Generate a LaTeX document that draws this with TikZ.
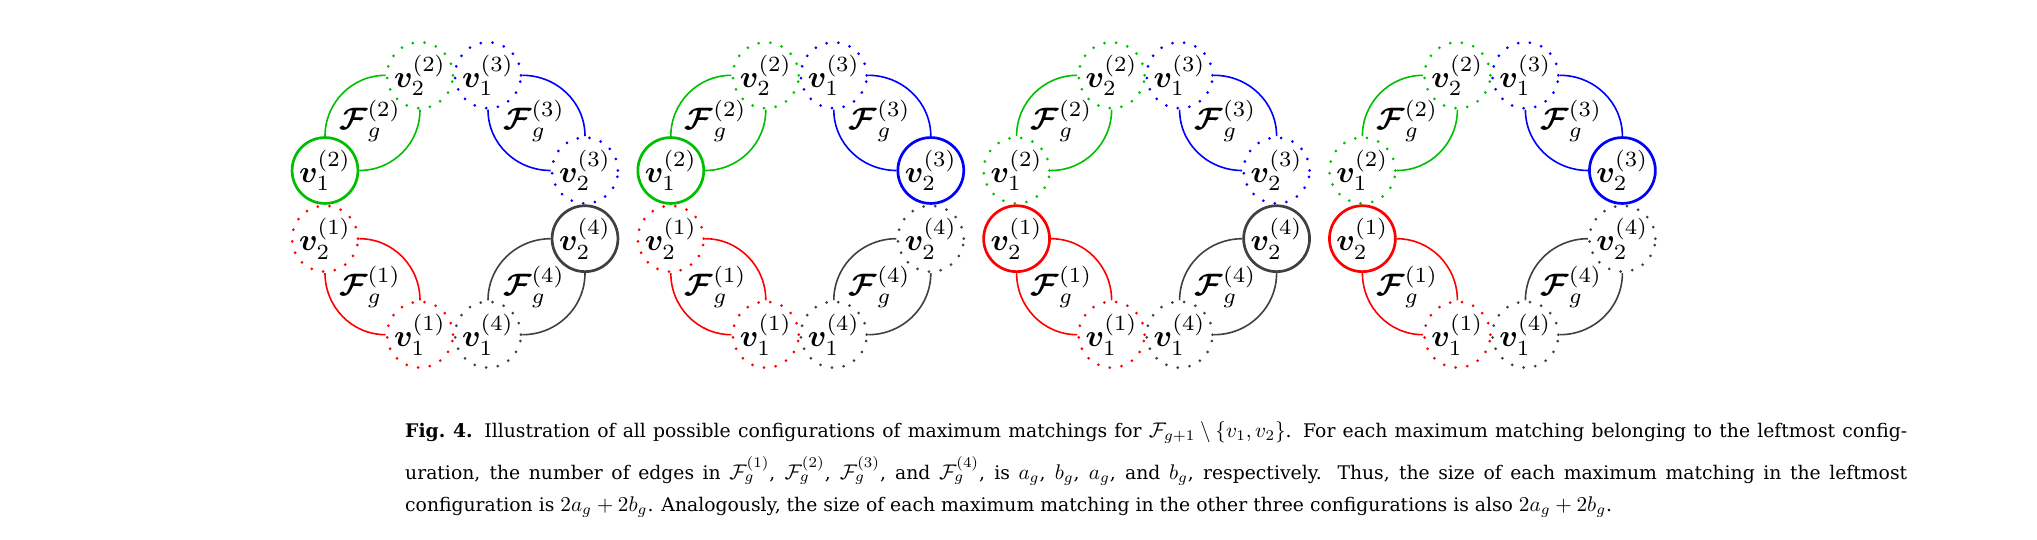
\documentclass[tikz,border=0pt]{standalone}
\usepackage[no-math]{fontspec}
\usepackage{amsmath,bm,graphicx}
\newfontfamily\capfont{DejaVu Serif}
\definecolor{cgreen}{RGB}{0,190,0}
\definecolor{cblue}{RGB}{0,0,255}
\definecolor{cred}{RGB}{255,0,0}
\definecolor{cgray}{RGB}{64,64,64}
\newcommand\vlab[1]{\scalebox{3.1}{$#1$}}
\newcommand\mm[1]{\scalebox{1.13}{$#1$}}
\newcommand\capl[2]{\scalebox{1.877}{\capfont\fontsize{10}{12}\selectfont\makebox[#1][s]{#2}}}
\tikzset{
  vnode/.style={circle, minimum size=64.6pt, inner sep=0pt, text=black},
  solidv/.style={vnode, draw=#1, line width=2.7pt},
  dotv/.style={vnode, draw=#1, line width=3pt, line cap=round, dash pattern=on 0pt off 11.8pt},
  arcline/.style={draw=#1, line width=1.6pt},
  flabel/.style={inner sep=0pt},
  capline/.style={inner sep=0pt, anchor=base west},
}
% #1 prefix, #2 centre x, #3 style v1^(2), #4 style v2^(1), #5 style v2^(3), #6 style v2^(4)
\newcommand\cfg[6]{%
  \node[#3=cgreen] (#1v12) at (#2-130,-170.5) {\vlab{\bm{v}_1^{(2)}}};
  \node[dotv=cgreen] (#1v22) at (#2-35,-75.3) {\vlab{\bm{v}_2^{(2)}}};
  \node[dotv=cblue] (#1v13) at (#2+33,-75.3) {\vlab{\bm{v}_1^{(3)}}};
  \node[#5=cblue] (#1v23) at (#2+130,-170.5) {\vlab{\bm{v}_2^{(3)}}};
  \node[#4=cred] (#1v21) at (#2-130,-238.7) {\vlab{\bm{v}_2^{(1)}}};
  \node[#6=cgray] (#1v24) at (#2+130,-238.7) {\vlab{\bm{v}_2^{(4)}}};
  \node[dotv=cred] (#1v11) at (#2-35,-334.7) {\vlab{\bm{v}_1^{(1)}}};
  \node[dotv=cgray] (#1v14) at (#2+33,-334.7) {\vlab{\bm{v}_1^{(4)}}};
  \draw[arcline=cgreen] (#1v12.north) to[out=90,in=180] (#1v22.west);
  \draw[arcline=cgreen] (#1v12.east) to[out=0,in=-90] (#1v22.south);
  \draw[arcline=cblue] (#1v13.east) to[out=0,in=90] (#1v23.north);
  \draw[arcline=cblue] (#1v13.south) to[out=-90,in=180] (#1v23.west);
  \draw[arcline=cred] (#1v21.east) to[out=0,in=90] (#1v11.north);
  \draw[arcline=cred] (#1v21.south) to[out=-90,in=180] (#1v11.west);
  \draw[arcline=cgray] (#1v24.west) to[out=180,in=90] (#1v14.north);
  \draw[arcline=cgray] (#1v24.south) to[out=-90,in=0] (#1v14.east);
  \node[flabel] (#1f2) at (#2-85,-121) {\vlab{\bm{\mathcal{F}}_g^{(2)}}};
  \node[flabel] (#1f3) at (#2+79,-121) {\vlab{\bm{\mathcal{F}}_g^{(3)}}};
  \node[flabel] (#1f1) at (#2-85,-287) {\vlab{\bm{\mathcal{F}}_g^{(1)}}};
  \node[flabel] (#1f4) at (#2+79,-287) {\vlab{\bm{\mathcal{F}}_g^{(4)}}};
}
\begin{document}
\begin{tikzpicture}[x=1pt,y=1pt]
\useasboundingbox (0,0) rectangle (2037,-540);
\cfg{a}{455}{solidv}{dotv}{dotv}{solidv}
\cfg{b}{800.8}{solidv}{dotv}{solidv}{dotv}
\cfg{c}{1146.6}{dotv}{solidv}{dotv}{solidv}
\cfg{d}{1492.4}{dotv}{solidv}{solidv}{dotv}
\node[capline] (cap1) at (405,-437.3) {\capl{800.2pt}{\textbf{Fig.\ 4.} Illustration of all possible configurations of maximum matchings for \mm{\mathcal{F}_{g+1}\setminus\{v_1, v_2\}}. For each maximum matching belonging to the leftmost config-}};
\node[capline] (cap2) at (405,-479) {\capl{800.2pt}{uration, the number of edges in \mm{\mathcal{F}_g^{(1)}}, \mm{\mathcal{F}_g^{(2)}}, \mm{\mathcal{F}_g^{(3)}}, and \mm{\mathcal{F}_g^{(4)}}, is \mm{a_g}, \mm{b_g}, \mm{a_g}, and \mm{b_g}, respectively. Thus, the size of each maximum matching in the leftmost}};
\node[capline] (cap3) at (405,-511.7) {\scalebox{1.877}{\capfont\fontsize{10}{12}\selectfont configuration is \mm{2a_g+2b_g}. Analogously, the size of each maximum matching in the other three configurations is also \mm{2a_g+2b_g}.}};
\end{tikzpicture}
\end{document}
